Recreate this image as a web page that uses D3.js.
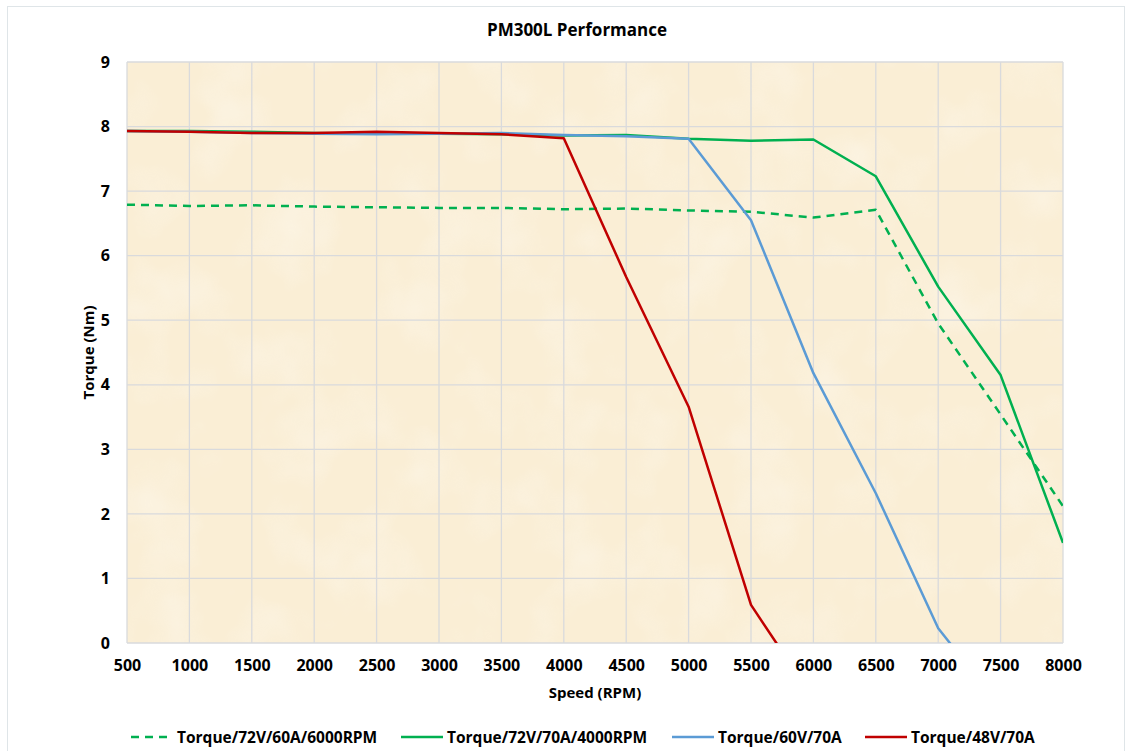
<!DOCTYPE html>
<html>
<head>
<meta charset="utf-8">
<script src="https://cdn.jsdelivr.net/npm/d3@7/dist/d3.min.js"></script>
<style>
  body { margin: 0; background: #fff; }
  text { font-family: "Open Sans", sans-serif; font-weight: bold; fill: #000; }
</style>
</head>
<body>
<div id="chart"></div>
<script>
// speeds (RPM) and torque readings (Nm)
const speeds = [500, 1000, 1500, 2000, 2500, 3000, 3500, 4000, 4500, 5000, 5500, 6000, 6500, 7000, 7500, 8000];
const torque72v60a = [6.79, 6.77, 6.78, 6.76, 6.75, 6.74, 6.74, 6.72, 6.73, 6.70, 6.68, 6.59, 6.71, 4.95, 3.54, 2.12];
const torque72v70a = [7.93, 7.93, 7.92, 7.90, 7.89, 7.89, 7.88, 7.86, 7.87, 7.81, 7.78, 7.80, 7.23, 5.52, 4.15, 1.55];
const torque60v70a = [7.93, 7.92, 7.90, 7.89, 7.88, 7.89, 7.90, 7.87, 7.85, 7.81, 6.55, 4.18, 2.32, 0.23, -1.0];
const torque48v70a = [7.93, 7.92, 7.90, 7.90, 7.92, 7.90, 7.88, 7.82, 5.67, 3.66, 0.59, -0.86];

const xTicks = [500, 1000, 1500, 2000, 2500, 3000, 3500, 4000, 4500, 5000, 5500, 6000, 6500, 7000, 7500, 8000];
const yTicks = [0, 1, 2, 3, 4, 5, 6, 7, 8, 9];

const series = [
  { name: "Torque/72V/60A/6000RPM", values: torque72v60a, color: "#00b050", dash: "8,6" },
  { name: "Torque/72V/70A/4000RPM", values: torque72v70a, color: "#00b050", dash: null },
  { name: "Torque/60V/70A", values: torque60v70a, color: "#5b9bd5", dash: null },
  { name: "Torque/48V/70A", values: torque48v70a, color: "#c00000", dash: null },
];

const width = 1133, height = 751;
const margin = { top: 62, right: 70, bottom: 108, left: 127 };

const svg = d3.select("#chart").append("svg")
  .attr("width", width)
  .attr("height", height);

// faint outer chart border
svg.append("rect")
  .attr("x", 7.5).attr("y", 6.5)
  .attr("width", 1117).attr("height", 780)
  .attr("fill", "none")
  .attr("stroke", "#dfe5e8");

const x = d3.scaleLinear().domain([500, 8000]).range([margin.left, width - margin.right]);
const y = d3.scaleLinear().domain([0, 9]).range([height - margin.bottom, margin.top]);

// paper-like background
const defs = svg.append("defs");
const filt = defs.append("filter").attr("id", "paper").attr("x", 0).attr("y", 0).attr("width", 1).attr("height", 1);
filt.append("feTurbulence").attr("type", "fractalNoise").attr("baseFrequency", 0.015).attr("numOctaves", 3).attr("seed", 4).attr("result", "noise");
filt.append("feColorMatrix").attr("in", "noise").attr("type", "matrix")
  .attr("values", "0 0 0 0 1  0 0 0 0 1  0 0 0 0 1  1.6 0 0 0 -0.75")
  .attr("result", "spots");
filt.append("feComposite").attr("in", "spots").attr("in2", "SourceGraphic").attr("operator", "in");

defs.append("clipPath").attr("id", "plot-clip")
  .append("rect")
  .attr("x", margin.left).attr("y", margin.top)
  .attr("width", x.range()[1] - x.range()[0])
  .attr("height", y.range()[0] - y.range()[1]);

svg.append("rect")
  .attr("x", margin.left).attr("y", margin.top)
  .attr("width", x.range()[1] - x.range()[0])
  .attr("height", y.range()[0] - y.range()[1])
  .attr("fill", "#faeed5");
svg.append("rect")
  .attr("x", margin.left).attr("y", margin.top)
  .attr("width", x.range()[1] - x.range()[0])
  .attr("height", y.range()[0] - y.range()[1])
  .attr("fill", "#fff")
  .attr("opacity", 0.4)
  .attr("filter", "url(#paper)");

// grid
svg.append("g")
  .selectAll("line")
  .data(xTicks)
  .join("line")
  .attr("x1", (d) => x(d)).attr("x2", (d) => x(d))
  .attr("y1", y(0)).attr("y2", y(9))
  .attr("stroke", "#d9dadc").attr("stroke-width", 1.3);

svg.append("g")
  .selectAll("line")
  .data(yTicks)
  .join("line")
  .attr("x1", x(500)).attr("x2", x(8000))
  .attr("y1", (d) => y(d)).attr("y2", (d) => y(d))
  .attr("stroke", "#d9dadc").attr("stroke-width", 1.3);

// axes (labels only)
const xAxis = d3.axisBottom(x).tickValues(xTicks).tickSize(0).tickPadding(17).tickFormat(d3.format("d"));
svg.append("g")
  .attr("transform", "translate(0," + y(0) + ")")
  .call(xAxis)
  .call((g) => g.select(".domain").remove())
  .selectAll("text")
  .style("font-size", "16px")
  .style("font-family", "'Open Sans', sans-serif");

const yAxis = d3.axisLeft(y).tickValues(yTicks).tickSize(0).tickPadding(17);
svg.append("g")
  .attr("transform", "translate(" + margin.left + ",0)")
  .call(yAxis)
  .call((g) => g.select(".domain").remove())
  .selectAll("text")
  .style("font-size", "16px")
  .style("font-family", "'Open Sans', sans-serif");

// lines
const line = d3.line()
  .x((d, i) => x(speeds[i]))
  .y((d) => y(d));

svg.append("g")
  .attr("clip-path", "url(#plot-clip)")
  .selectAll("path")
  .data(series)
  .join("path")
  .attr("d", (s) => line(s.values))
  .attr("fill", "none")
  .attr("stroke", (s) => s.color)
  .attr("stroke-width", 2.5)
  .attr("stroke-linejoin", "round")
  .attr("stroke-dasharray", (s) => s.dash);

// titles
svg.append("text")
  .attr("x", (x.range()[0] + x.range()[1]) / 2 - 18)
  .attr("y", 36)
  .attr("text-anchor", "middle")
  .style("font-size", "17px")
  .text("PM300L Performance");

svg.append("text")
  .attr("x", (x.range()[0] + x.range()[1]) / 2)
  .attr("y", 698)
  .attr("text-anchor", "middle")
  .style("font-size", "15px")
  .text("Speed (RPM)");

svg.append("text")
  .attr("transform", "translate(94," + (margin.top + y.range()[0]) / 2 + ") rotate(-90)")
  .attr("text-anchor", "middle")
  .style("font-size", "15px")
  .text("Torque (Nm)");

// legend
const legendX = [131, 401, 672, 865];
const legend = svg.append("g")
  .selectAll("g")
  .data(series)
  .join("g")
  .attr("transform", (s, i) => "translate(" + legendX[i] + ",737)");

legend.append("line")
  .attr("x1", 0).attr("x2", 42)
  .attr("y1", 0).attr("y2", 0)
  .attr("stroke", (s) => s.color)
  .attr("stroke-width", 2.5)
  .attr("stroke-dasharray", (s) => s.dash);

legend.append("text")
  .attr("x", 46)
  .attr("y", 0)
  .attr("dy", "0.36em")
  .style("font-size", "15.5px")
  .text((s) => s.name);
</script>
</body>
</html>
